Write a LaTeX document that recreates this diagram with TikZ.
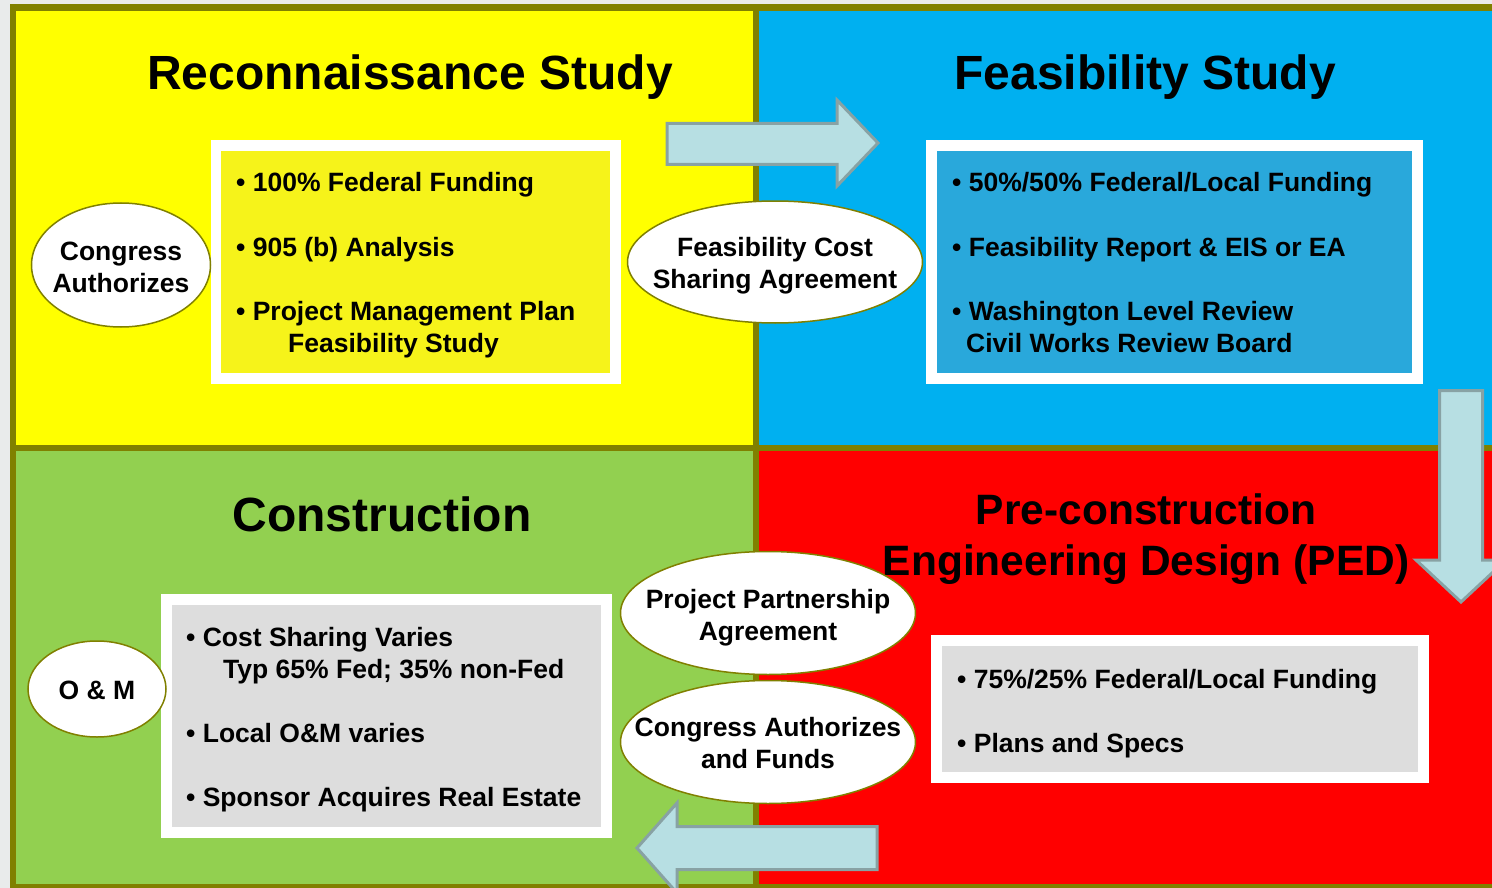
\documentclass[tikz,border=0pt]{standalone}
\usepackage{fontspec}
\setmainfont{Liberation Sans}
\usetikzlibrary{shapes.geometric}
\definecolor{paper}{HTML}{E9EBEB}
\definecolor{olivebar}{HTML}{808000}
\definecolor{recon}{HTML}{FFFF00}
\definecolor{reconbox}{HTML}{F6F31A}
\definecolor{feas}{HTML}{00B0F0}
\definecolor{feasbox}{HTML}{29A8DB}
\definecolor{constr}{HTML}{92D050}
\definecolor{ped}{HTML}{FF0000}
\definecolor{graybox}{HTML}{DDDDDD}
\definecolor{arrowfill}{HTML}{B7DFE3}
\definecolor{arrowline}{HTML}{88A2A4}

\begin{document}
\begin{tikzpicture}
  [x=1pt,y=-1pt,
   title/.style={font=\bfseries\fontsize{48}{51}\selectfont,anchor=base,inner sep=0pt},
   pedtitle/.style={font=\bfseries\fontsize{42.5}{51}\selectfont,anchor=base,inner sep=0pt},
   item/.style={font=\bfseries\fontsize{26.5}{32}\selectfont,anchor=base west,inner sep=0pt},
   panel/.style={draw=white,line width=10.5pt},
   oval/.style={ellipse,draw=olivebar,line width=1.5pt,fill=white,inner sep=0pt},
   ovaltext/.style={font=\bfseries\fontsize{26.5}{32}\selectfont,align=center,inner sep=0pt},
   blockarrow/.style={fill=arrowfill,draw=arrowline,line width=3pt,line join=miter}]
  \clip (0,0) rectangle (1492,888);
  \fill[paper] (0,0) rectangle (1492,888);
  \fill[olivebar] (10,4) rectangle (1500,888);
  \fill[recon] (16,11) rectangle (753,445);
  \fill[feas] (759,11) rectangle (1500,445);
  \fill[constr] (16,451) rectangle (753,884);
  \fill[ped] (759,451) rectangle (1500,884);

  \node[title] (recontitle) at (410,90) {Reconnaissance Study};
  \node[title] (feastitle) at (1145,90) {Feasibility Study};
  \node[title] (constrtitle) at (382,531) {Construction};
  \node[pedtitle] (pretitle) at (1146,524) {Pre-construction};
  \node[pedtitle] (pedtitle) at (1146,575) {Engineering Design (PED)};

  \draw[panel,fill=reconbox] (216,145.5) rectangle (615.5,378.5);
  \draw[panel,fill=feasbox] (931.5,145.5) rectangle (1417.5,378.5);
  \draw[panel,fill=graybox] (166.5,599.5) rectangle (606.5,832.5);
  \draw[panel,fill=graybox] (936.5,640.5) rectangle (1423.5,777.5);

  \foreach \px/\py/\txt [count=\k] in {236/192/{• 100\% Federal Funding},
      236/256/{• 905 (b) Analysis},236/320/{• Project Management Plan},288/352/{Feasibility Study}}
    \node[item] (recon\k) at (\px,\py) {\txt};
  \foreach \px/\py/\txt [count=\k] in {952/192/{• 50\%/50\% Federal/Local Funding},
      952/256/{• Feasibility Report \& EIS or EA},952/320/{• Washington Level Review},966/352/{Civil Works Review Board}}
    \node[item] (feas\k) at (\px,\py) {\txt};
  \foreach \px/\py/\txt [count=\k] in {186/646/{• Cost Sharing Varies},223/678/{Typ 65\% Fed; 35\% non-Fed},
      186/742/{• Local O\&M varies},186/806/{• Sponsor Acquires Real Estate}}
    \node[item] (constr\k) at (\px,\py) {\txt};
  \node[item] (ped1) at (957,688) {• 75\%/25\% Federal/Local Funding};
  \node[item] (ped2) at (957,752) {• Plans and Specs};

  \draw[blockarrow] (667,123.5) -- (837,123.5) -- (837,100) -- (878,143) -- (837,186)
    -- (837,164.5) -- (667,164.5) -- cycle;
  \draw[blockarrow] (1439.5,390.5) -- (1482.5,390.5) -- (1482.5,560) -- (1506,560)
    -- (1461,602) -- (1416,560) -- (1439.5,560) -- cycle;
  \draw[blockarrow] (877,826.5) -- (877,869.5) -- (677,869.5) -- (677,893) -- (637,848)
    -- (677,803) -- (677,826.5) -- cycle;

  \node[oval,minimum width=179pt,minimum height=124pt] (congress) at (121,265) {};
  \node[ovaltext,yshift=-2pt] at (congress) {Congress\\Authorizes};
  \node[oval,minimum width=295pt,minimum height=122pt] (fcsa) at (775,262) {};
  \node[ovaltext,yshift=-4pt] at (fcsa) {Feasibility Cost\\Sharing Agreement};
  \node[oval,minimum width=295pt,minimum height=123pt] (ppa) at (768,613) {};
  \node[ovaltext,yshift=-5pt] at (ppa) {Project Partnership\\Agreement};
  \node[oval,minimum width=295pt,minimum height=123pt] (funds) at (768,742) {};
  \node[ovaltext,yshift=-1pt] at (funds) {Congress Authorizes\\and Funds};
  \node[oval,minimum width=138pt,minimum height=96pt] (om) at (97,689) {};
  \node[ovaltext,yshift=-1pt] at (om) {O \& M};
\end{tikzpicture}
\end{document}
